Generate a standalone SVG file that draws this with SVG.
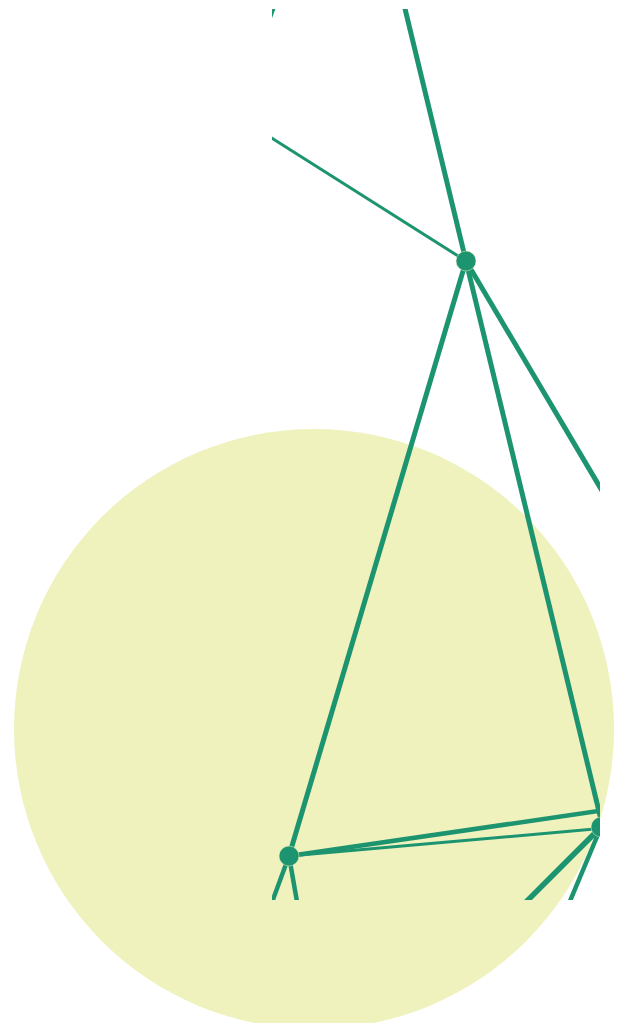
<svg xmlns="http://www.w3.org/2000/svg" width="624" height="1023" viewBox="0 0 624 1023">
<defs>
<clipPath id="clip"><rect x="272" y="9" width="328" height="891"/></clipPath>
<style>
.e{stroke:#1d9470;fill:none;stroke-linecap:butt}
.n{fill:#1d9470;stroke:#eef2bd;stroke-width:0.5}
</style>
</defs>
<rect width="624" height="1023" fill="#ffffff"/>
<circle cx="314" cy="729" r="300" fill="#eff2bd"/>
<g clip-path="url(#clip)">
<g id="connectors">
<line class="e" x1="400" y1="-12" x2="603" y2="828" stroke-width="5"/>
<line class="e" x1="240" y1="118" x2="466" y2="261" stroke-width="3"/>
<line class="e" x1="466" y1="261" x2="620" y2="521" stroke-width="5"/>
<line class="e" x1="466" y1="261" x2="289" y2="856" stroke-width="5"/>
<line class="e" x1="289" y1="856" x2="640" y2="805" stroke-width="4.5"/>
<line class="e" x1="289" y1="856" x2="640" y2="825" stroke-width="3"/>
<line class="e" x1="289" y1="856" x2="268" y2="913" stroke-width="4.5"/>
<line class="e" x1="289" y1="856" x2="299" y2="913" stroke-width="4.5"/>
<line class="e" x1="601" y1="827" x2="515" y2="913" stroke-width="5.5"/>
<line class="e" x1="601" y1="827" x2="565" y2="913" stroke-width="4.5"/>
<line class="e" x1="268" y1="25" x2="277" y2="0" stroke-width="3"/>
</g>
<g id="node-a"><circle class="n" cx="466" cy="261" r="10"/></g>
<g id="node-b"><circle class="n" cx="289" cy="856" r="10"/></g>
<g id="node-c"><circle class="n" cx="601" cy="827" r="10"/></g>
</g>
</svg>
